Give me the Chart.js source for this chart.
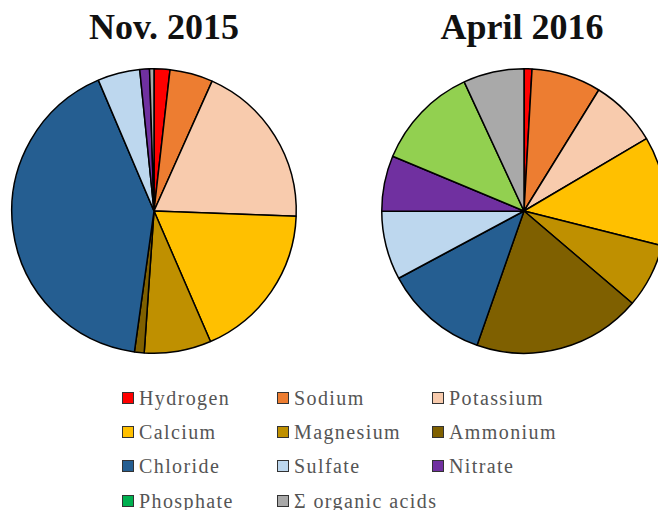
<!DOCTYPE html>
<html>
<head>
<meta charset="utf-8">
<script src="https://cdn.jsdelivr.net/npm/chart.js@4"></script>
<style>
  html, body { margin: 0; padding: 0; background: #fff; overflow: hidden; }
  body { width: 658px; height: 510px; position: relative; font-family: "Liberation Serif", "DejaVu Serif", serif; }
  .title { position: absolute; top: 6px; font-weight: bold; font-size: 36px; color: #111; transform: translateX(-50%); white-space: nowrap; }
  .pie { position: absolute; top: 66px; width: 290px; height: 290px; }
  .legend-item { position: absolute; font-family: "Liberation Serif", serif; font-size: 20px; letter-spacing: 1.4px; color: #555; white-space: nowrap; line-height: 20px; }
  .legend-item span.box { display: inline-block; width: 10px; height: 10px; border: 1.5px solid #333; margin-right: 5px; vertical-align: 1px; }
</style>
</head>
<body>
<div class="title" style="left:164px">Nov. 2015</div>
<div class="title" style="left:522px">April 2016</div>
<div class="pie" style="left:9px"><canvas id="nov"></canvas></div>
<div class="pie" style="left:379px"><canvas id="apr"></canvas></div>
<div id="legend"></div>
<script>
// ion shares (% of total)
const labels = ['Hydrogen', 'Sodium', 'Potassium', 'Calcium', 'Magnesium', 'Ammonium',
  'Chloride', 'Sulfate', 'Nitrate', 'Phosphate', '\u03A3 organic acids'];
const nov2015 = [1.8, 4.9, 18.9, 17.9, 7.6, 1.1, 41.4, 4.8, 1.1, 0, 0.5];
const apr2016 = [0.9, 7.9, 7.7, 12.4, 7.3, 19.1, 11.8, 7.8, 6.3, 11.8, 6.9];

const sliceColors = ['#ff0000', '#ed7d31', '#f8cbad', '#ffc000', '#bf9000', '#7f6000',
  '#255e91', '#bdd7ee', '#7030a0', '#92d050', '#a9a9a9'];
const legendColors = ['#ff0000', '#ed7d31', '#f8cbad', '#ffc000', '#bf9000', '#7f6000',
  '#255e91', '#bdd7ee', '#7030a0', '#00b050', '#a9a9a9'];

function makePie(id, values) {
  new Chart(document.getElementById(id), {
    type: 'pie',
    data: {
      labels: labels,
      datasets: [{
        data: values,
        backgroundColor: sliceColors,
        borderColor: '#000',
        borderWidth: 1.5,
      }],
    },
    options: {
      responsive: true,
      maintainAspectRatio: false,
      animation: false,
      layout: { padding: 2 },
      plugins: {
        legend: { display: false },
        tooltip: { enabled: false },
      },
    },
  });
}

makePie('nov', nov2015);
makePie('apr', apr2016);

// shared legend, 3 columns
const colX = [122, 277, 432];
const rowY = [388, 422, 456, 491];
const legend = document.getElementById('legend');
labels.forEach((label, i) => {
  const div = document.createElement('div');
  div.className = 'legend-item';
  div.style.left = colX[i % 3] + 'px';
  div.style.top = rowY[Math.floor(i / 3)] + 'px';
  div.innerHTML = '<span class="box" style="background:' + legendColors[i] + '"></span>' + label;
  legend.appendChild(div);
});
</script>
</body>
</html>
